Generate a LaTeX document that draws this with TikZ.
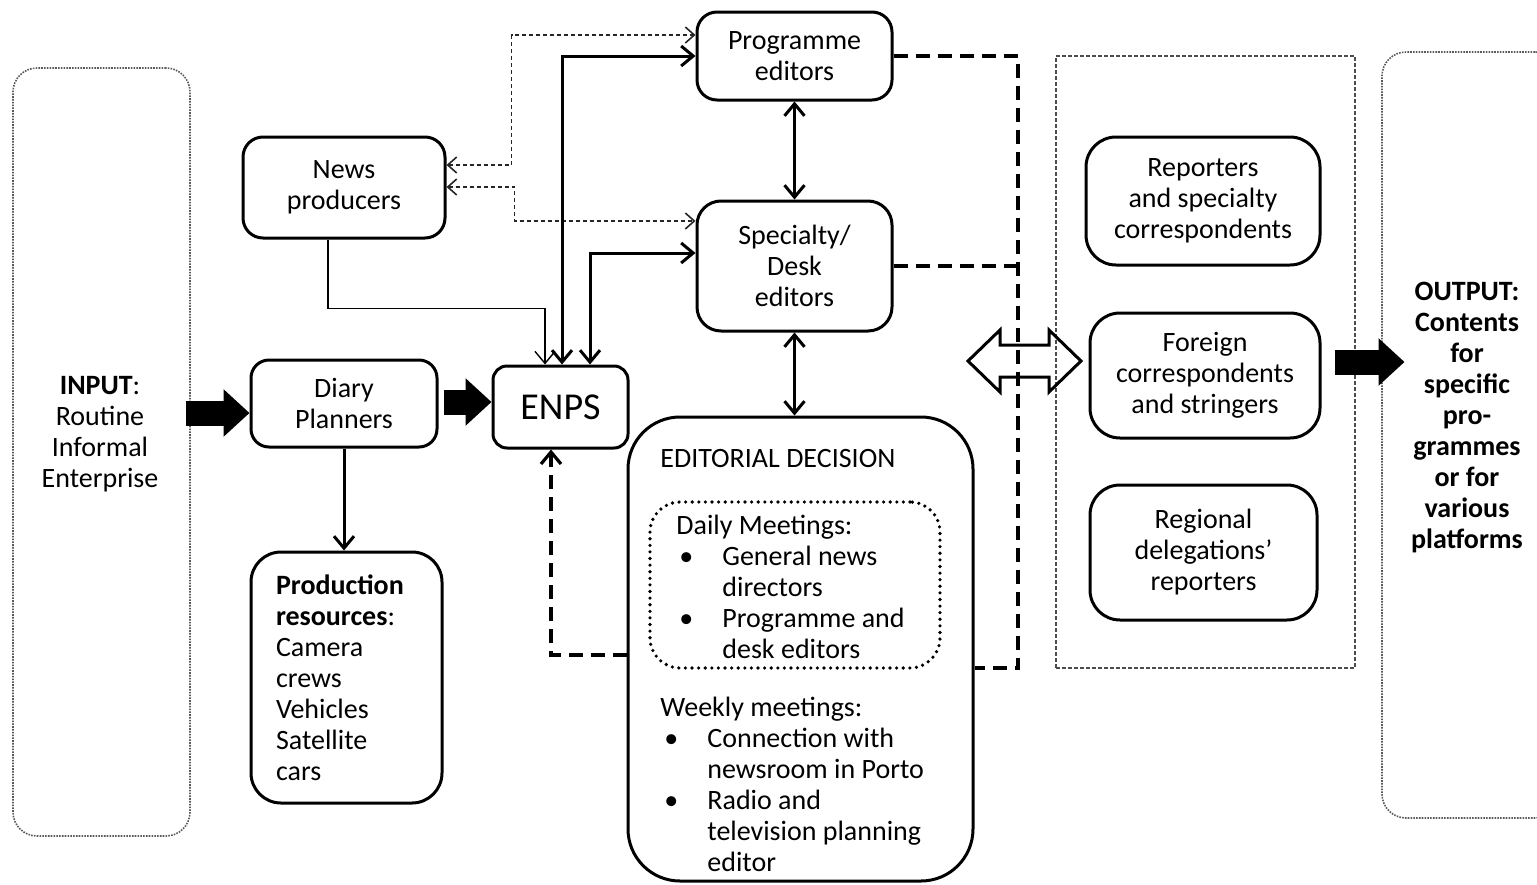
\documentclass[tikz,border=0pt]{standalone}
\usepackage{fontspec}
\setmainfont{Carlito}
\usetikzlibrary{arrows.meta,calc}
\begin{document}
\begin{tikzpicture}[x=0.5pt,y=-0.5pt,
  every node/.style={font=\fontsize{14}{15.5}\selectfont},
  box/.style={draw, line width=1.5pt, rounded corners=10pt, align=center, inner sep=0pt},
  frame/.style={draw=black!65, line width=0.8pt, dash pattern=on 0.8pt off 0.6pt, rounded corners=12pt, inner sep=0pt},
  link/.style={line width=1.5pt},
  thinlink/.style={line width=0.7pt},
  dotlink/.style={line width=0.8pt, draw=black!85, dash pattern=on 2.2pt off 1.3pt},
  dashlink/.style={line width=1.6pt, dash pattern=on 7pt off 4pt},
  both/.style={arrows={Straight Barb[length=6pt,width=10pt]-Straight Barb[length=6pt,width=10pt]}},
  tohead/.style={arrows={-Straight Barb[length=6pt,width=10pt]}},
  smallboth/.style={arrows={Straight Barb[length=4.5pt,width=8pt]-Straight Barb[length=4.5pt,width=8pt]}},
  block/.style={line width=12.5pt, arrows={-Triangle[length=13pt,width=23pt]}},
]
\useasboundingbox (0,0) rectangle (1537,884);

% input and output frames
\node[frame, minimum width=88.5pt, minimum height=384pt] (inbox) at (101.5,452) {};
\node[align=center] (intext) at (100,434.5) {\textbf{INPUT}:\\Routine\\Informal\\Enterprise};
\node[frame, minimum width=88.5pt, minimum height=383pt] (outbox) at (1470.5,435) {};
\node[align=center, font=\fontsize{14}{15.5}\selectfont\bfseries] (outtext) at (1467,417.5)
  {OUTPUT:\\Contents\\for\\specific\\pro-\\grammes\\or for\\various\\platforms};

% correspondents group
\node[draw=black!70, line width=0.7pt, dash pattern=on 2pt off 1pt, inner sep=0pt,
      minimum width=149.5pt, minimum height=306pt] (group) at (1205.5,362) {};

% main boxes
\node[box, minimum width=101pt, minimum height=50.5pt] (np) at (344,187.5) {News\\producers};
\node[box, rounded corners=9pt, minimum width=93pt, minimum height=43.5pt] (diary) at (344,403.5) {Diary\\Planners};
\node[box, rounded corners=7pt, minimum width=67.5pt, minimum height=41pt, font=\fontsize{19}{22}\selectfont] (enps) at (560.5,407) {ENPS};
\node[box, rounded corners=15pt, minimum width=95.5pt, minimum height=125.5pt, text width=70.5pt, align=left] (prod) at (346.5,677.5)
  {\textbf{Production}\\\textbf{resources}:\\Camera\\crews\\Vehicles\\Satellite\\cars};
\node[box, minimum width=97.5pt, minimum height=44pt] (prog) at (794.5,56) {Programme\\editors};
\node[box, rounded corners=12pt, minimum width=97.5pt, minimum height=65pt] (spec) at (794.5,266) {Specialty/\\Desk\\editors};
\node[box, rounded corners=26pt, minimum width=172.5pt, minimum height=232pt] (edit) at (800.5,649) {};
\node[draw, line width=1.8pt, dash pattern=on 0pt off 3.3pt, line cap=round, rounded corners=15pt,
      inner sep=0pt, minimum width=145pt, minimum height=83pt] (daily) at (795,585) {};
\node[anchor=base west, inner sep=0pt] (edtitle) at (660,467) {EDITORIAL DECISION};
\node[anchor=west, align=left, inner sep=0pt] (dailytext) at (676,587)
  {Daily Meetings:\\
   \makebox[23pt][l]{\hspace{1.5pt}\textbullet}General news\\
   \hspace*{23pt}directors\\
   \makebox[23pt][l]{\hspace{1.5pt}\textbullet}Programme and\\
   \hspace*{23pt}desk editors};
\node[anchor=west, align=left, inner sep=0pt] (weeklytext) at (660,784.5)
  {Weekly meetings:\\
   \makebox[23.5pt][l]{\hspace{2pt}\textbullet}Connection with\\
   \hspace*{23.5pt}newsroom in Porto\\
   \makebox[23.5pt][l]{\hspace{2pt}\textbullet}Radio and\\
   \hspace*{23.5pt}television planning\\
   \hspace*{23.5pt}editor};

\node[box, rounded corners=15pt, minimum width=117pt, minimum height=64pt] (rep) at (1203,201) {Reporters\\and specialty\\correspondents};
\node[box, rounded corners=15pt, minimum width=115pt, minimum height=62.5pt] (forn) at (1205,375.5) {Foreign\\correspondents\\and stringers};
\node[box, rounded corners=15pt, minimum width=113.5pt, minimum height=67.5pt] (reg) at (1203.5,552.5) {Regional\\delegations’\\reporters};

% block arrows
\draw[block] ($(inbox.east)+(-5,-39)$) coordinate (inA) -- (inA -| diary.west);
\draw[block] ($(diary.east)+(5,-1.5)$) coordinate (dA) -- (dA -| enps.west);
\draw[block] ($(forn.east)+(13,-13.5)$) coordinate (oA) -- ++(70,0) coordinate (oB);

% news producers links
\draw[dotlink, smallboth] ($(np.east)+(0,-22.5)$) -- ++(65,0) |- ($(prog.west)+(0,-21)$);
\draw[dotlink, smallboth] ($(np.east)+(0,-0.5)$) -- ++(68,0) |- ($(spec.west)+(0,-45)$);
\draw[thinlink, tohead] ($(np.south)+(-16,0)$) -- ++(0,69) -| ($(enps.north)+(-15.5,0)$);

% ENPS links
\draw[link, both] ($(enps.north)+(1.5,0)$) |- (prog.west);
\draw[link, both] ($(enps.north)+(29.5,0)$) |- ($(spec.west)+(0,-13)$);
\draw[link, both] (prog.south) -- (spec.north);
\draw[link, both] (spec.south) -- (spec.south |- edit.north);
\draw[link, tohead] (diary.south) -- (diary.south |- prod.north);
\draw[dashlink, tohead] ($(edit.west)+(0,6)$) -| ($(enps.south)+(-9.5,0)$);

% editors to correspondents
\coordinate (bus) at (1018,0);
\coordinate (edittap) at ($(edit.east)+(0,19)$);
\draw[dashlink] (prog.east) -- (prog.east -| bus) -- (bus |- edittap) -- (edittap);
\draw[dashlink] (spec.east) -- (spec.east -| bus);

% hollow two-way arrow
\draw[line width=1.5pt, line join=miter]
  (968,361) -- (1000,330) -- (1000,345) -- (1049,345) -- (1049,330) -- (1081,361)
  -- (1049,392) -- (1049,377) -- (1000,377) -- (1000,392) -- cycle;
\end{tikzpicture}
\end{document}
